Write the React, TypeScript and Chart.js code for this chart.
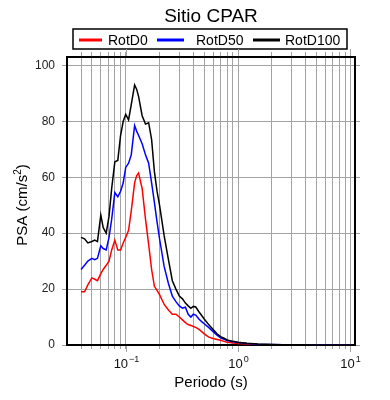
import React, { useEffect, useRef } from 'react';
import { Chart, registerables } from 'chart.js';

Chart.register(...registerables);

const FONT = '"Liberation Sans", Arial, Helvetica, sans-serif';

const chartTitle = 'Sitio CPAR';
const xAxisTitle = 'Periodo (s)';
const yAxisTitleBase = 'PSA (cm/s';
const yAxisTitleSup = '2';
const yAxisTitleEnd = ')';

const periods = [
  0.04, 0.043, 0.046, 0.05, 0.053, 0.056, 0.06, 0.063, 0.067, 0.071, 0.075, 0.08, 0.085, 0.09, 0.095,
  0.1, 0.106, 0.112, 0.12, 0.125, 0.13, 0.14, 0.15, 0.16, 0.17, 0.18, 0.19, 0.2, 0.22, 0.24, 0.26,
  0.28, 0.3, 0.32, 0.34, 0.36, 0.38, 0.4, 0.42, 0.45, 0.48, 0.5, 0.55, 0.6, 0.65, 0.7, 0.75, 0.8,
  0.9, 1.0, 1.2, 1.5, 2, 2.5, 3, 4, 5, 6, 7.5, 10,
];

const rotD0 = [
  19, 19, 21.5, 24, 23.5, 23, 25.5, 27, 28.5, 30, 34, 37.5, 34, 34, 36.5,
  38.5, 41, 48, 58, 60.5, 61.5, 56, 45, 36, 27, 21, 19.5, 18, 14.5, 12.5, 11,
  11, 10, 9, 8, 7.3, 7, 6.6, 6.3, 5.6, 4.6, 4, 2.8, 2.3, 2.0, 1.7, 1.3, 1.0,
  0.7, 0.5, 0.35, 0.2, 0.12, 0.08, 0.06, 0.04, 0.03, 0.02, 0.015, 0.01,
];

const rotD50 = [
  27, 28.5, 30, 31, 30.5, 31, 35.5, 34.5, 34, 38.5, 45, 54.5, 53, 55, 58,
  63.5, 65, 68, 78.5, 76.5, 75, 72, 68, 65, 58, 51, 44, 38, 28, 22, 17.5,
  15.5, 14, 13.2, 13.5, 11, 10, 11, 10.7, 9.2, 8.2, 7.6, 6.2, 4.8, 3.5, 2.6, 2.0, 1.6,
  1.2, 0.9, 0.5, 0.3, 0.18, 0.12, 0.09, 0.05, 0.035, 0.025, 0.02, 0.012,
];

const rotD100 = [
  38.5, 38, 36.5, 37, 37.5, 37, 46.5, 42, 40, 46, 56, 65.5, 66, 75, 80,
  82.5, 80.5, 86, 93, 91.5, 89, 82, 79, 79.5, 73.5, 62, 55, 50, 39, 30.5, 23,
  20, 17.5, 16.5, 15, 14, 13.1, 13.8, 13.6, 11.8, 10.3, 9.3, 7.2, 5.5, 4.0, 3.0, 2.4, 1.8,
  1.3, 1.0, 0.6, 0.35, 0.2, 0.13, 0.1, 0.06, 0.04, 0.03, 0.02, 0.015,
];

const seriesLabels = ['RotD0', 'RotD50', 'RotD100'];
const seriesColors = ['#ff0000', '#0000ff', '#000000'];

const xTickValues = [
  0.04, 0.05, 0.06, 0.07, 0.08, 0.09,
  0.1, 0.2, 0.3, 0.4, 0.5, 0.6, 0.7, 0.8, 0.9,
  1, 2, 3, 4, 5, 6, 7, 8, 9, 10,
];
const xMajorValues = [0.1, 1, 10];
const xMajorBase = ['10', '10', '10'];
const xMajorExp = ['−1', '0', '1'];
const yTickValues = [0, 20, 40, 60, 80, 100];

const X_MIN = 0.03;
const X_MAX = 11;
const Y_MIN = 0;
const Y_MAX = 103;

const GRID = '#a3a3a3';

const decorPlugin = {
  id: 'decor',
  afterDraw(chart: any) {
    const ctx = chart.ctx as CanvasRenderingContext2D;
    const area = chart.chartArea;
    const xs = chart.scales.x;
    ctx.save();

    // chart title
    ctx.fillStyle = '#000';
    ctx.textAlign = 'center';
    ctx.textBaseline = 'alphabetic';
    ctx.font = `19px ${FONT}`;
    ctx.fillText(chartTitle, (area.left + area.right) / 2, 21.5);

    // legend box
    const bx = 73, by = 29, bw = 274, bh = 20;
    ctx.lineWidth = 1.5;
    ctx.strokeStyle = '#000';
    ctx.strokeRect(bx, by, bw, bh);
    const entries = [
      { l0: 79, l1: 102, tx: 108 },
      { l0: 157, l1: 184, tx: 196 },
      { l0: 253, l1: 280, tx: 285 },
    ];
    ctx.font = `14px ${FONT}`;
    ctx.textAlign = 'left';
    chart.data.datasets.forEach((ds: any, i: number) => {
      const e = entries[i];
      ctx.strokeStyle = ds.borderColor;
      ctx.lineWidth = 3;
      ctx.beginPath();
      ctx.moveTo(e.l0, by + 11);
      ctx.lineTo(e.l1, by + 11);
      ctx.stroke();
      ctx.fillStyle = '#000';
      ctx.fillText(ds.label, e.tx, by + 16);
    });

    // longer major ticks (top and bottom) + major labels with superscript exponents
    ctx.strokeStyle = GRID;
    ctx.lineWidth = 1;
    xMajorValues.forEach((v, i) => {
      const px = Math.round(xs.getPixelForValue(v)) + 0.5;
      ctx.beginPath();
      ctx.moveTo(px, area.bottom + 1);
      ctx.lineTo(px, area.bottom + 7);
      ctx.moveTo(px, area.top - 1);
      ctx.lineTo(px, area.top - 8);
      ctx.stroke();

      ctx.font = `13px ${FONT}`;
      const wb = ctx.measureText(xMajorBase[i]).width;
      ctx.font = `9px ${FONT}`;
      const we = ctx.measureText(xMajorExp[i]).width;
      const x0 = px - (wb + we + 1) / 2;
      ctx.fillStyle = '#111';
      ctx.textAlign = 'left';
      ctx.font = `13px ${FONT}`;
      ctx.fillText(xMajorBase[i], x0, 367.5);
      ctx.font = `9px ${FONT}`;
      ctx.fillText(xMajorExp[i], x0 + wb + 1, 362);
    });

    // y axis title with superscript
    ctx.translate(23, 205);
    ctx.rotate(-Math.PI / 2);
    ctx.fillStyle = '#000';
    ctx.font = `15px ${FONT}`;
    const w1 = ctx.measureText(yAxisTitleBase).width;
    const w3 = ctx.measureText(yAxisTitleEnd).width;
    ctx.font = `10px ${FONT}`;
    const w2 = ctx.measureText(yAxisTitleSup).width;
    const total = w1 + w2 + w3;
    let cx = -total / 2;
    ctx.textBaseline = 'middle';
    ctx.textAlign = 'left';
    ctx.font = `15px ${FONT}`;
    ctx.fillText(yAxisTitleBase, cx, 0);
    cx += w1;
    ctx.font = `10px ${FONT}`;
    ctx.fillText(yAxisTitleSup, cx, -5);
    cx += w2;
    ctx.font = `15px ${FONT}`;
    ctx.fillText(yAxisTitleEnd, cx, 0);

    ctx.restore();
  },
};

export default function App() {
  const ref = useRef<HTMLCanvasElement | null>(null);

  useEffect(() => {
    if (!ref.current) return;
    Chart.defaults.font.family = FONT;
    const series = [rotD0, rotD50, rotD100];
    const datasets = series.map((vals, i) => ({
      label: seriesLabels[i],
      data: periods.map((p, j) => ({ x: p, y: vals[j] })),
      borderColor: seriesColors[i],
      backgroundColor: seriesColors[i],
      borderWidth: 1.5,
      pointRadius: 0,
      tension: 0,
      fill: false,
      order: 2 - i,
    }));

    const setXTicks = (s: any) => {
      s.ticks = xTickValues.map((v) => ({ value: v }));
    };
    const setYTicks = (s: any) => {
      s.ticks = yTickValues.map((v) => ({ value: v }));
    };

    const chart = new Chart(ref.current, {
      type: 'line',
      data: { datasets },
      plugins: [decorPlugin],
      options: {
        animation: false,
        responsive: false,
        devicePixelRatio: 1,
        layout: { padding: 0 },
        plugins: {
          legend: { display: false },
          title: { display: false },
          tooltip: { enabled: false },
        },
        scales: {
          x: {
            type: 'logarithmic',
            position: 'bottom',
            min: X_MIN,
            max: X_MAX,
            afterBuildTicks: setXTicks,
            afterFit: (s: any) => { s.height = 55; },
            ticks: {
              autoSkip: false,
              maxRotation: 0,
              minRotation: 0,
              padding: 3,
              callback: () => '',
            },
            grid: { color: GRID, lineWidth: 1, tickLength: 4, drawTicks: true },
            border: { display: true, color: '#000', width: 2 },
            title: {
              display: true,
              text: xAxisTitle,
              color: '#000',
              font: { size: 15, family: FONT },
              padding: { top: 0, bottom: 8 },
            },
          },
          xTop: {
            type: 'logarithmic',
            position: 'top',
            min: X_MIN,
            max: X_MAX,
            afterBuildTicks: setXTicks,
            afterFit: (s: any) => { s.height = 57; },
            ticks: { display: false },
            grid: { color: GRID, lineWidth: 1, tickLength: 5, drawOnChartArea: false, drawTicks: true },
            border: { display: true, color: '#000', width: 2 },
          },
          y: {
            type: 'linear',
            position: 'left',
            min: Y_MIN,
            max: Y_MAX,
            afterBuildTicks: setYTicks,
            afterFit: (s: any) => { s.width = 67; },
            ticks: { padding: 7, color: '#222', font: { size: 12, family: FONT } },
            grid: { color: GRID, lineWidth: 1, tickLength: 5, drawTicks: true },
            border: { display: true, color: '#000', width: 2 },
          },
          yRight: {
            type: 'linear',
            position: 'right',
            min: Y_MIN,
            max: Y_MAX,
            afterBuildTicks: setYTicks,
            afterFit: (s: any) => { s.width = 35; },
            ticks: { display: false },
            grid: { color: GRID, lineWidth: 1, tickLength: 5, drawOnChartArea: false, drawTicks: true },
            border: { display: true, color: '#000', width: 2 },
          },
        },
      } as any,
    });
    return () => chart.destroy();
  }, []);

  return (
    <div style={{ position: 'absolute', left: 0, top: 0, width: 390, height: 400, background: '#fff' }}>
      <canvas ref={ref} width={390} height={400} style={{ width: 390, height: 400 }} />
    </div>
  );
}
